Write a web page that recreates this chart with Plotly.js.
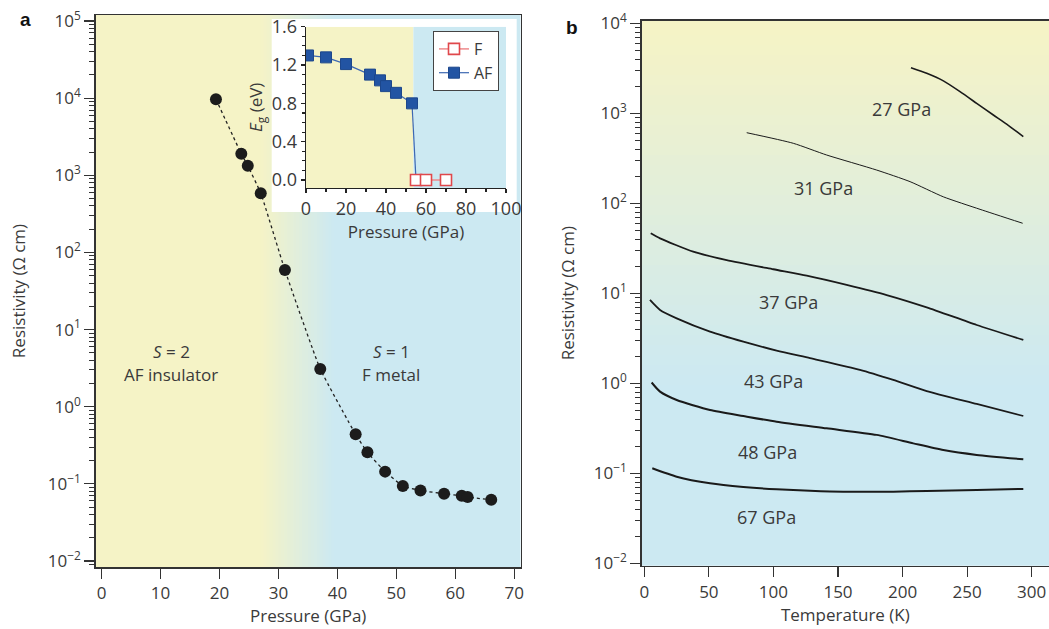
<!DOCTYPE html>
<html><head><meta charset="utf-8">
<script src="https://cdn.plot.ly/plotly-3.0.1.min.js"></script>
<style>html,body{margin:0;padding:0;background:#fff}#chart{width:1049px;height:629px}</style>
</head><body><div id="chart"></div>
<script>
// ---------- Panel a: resistivity vs pressure ----------
const pressureA = [19.4, 23.7, 24.8, 27.0, 31.1, 37.1, 43.1, 45.1, 48.1, 51.1, 54.1, 58.1, 61.1, 62.1, 66.1];
const resistivityA = [9700, 1900, 1330, 585, 59, 3.08, 0.438, 0.256, 0.144, 0.094, 0.082, 0.0745, 0.070, 0.0675, 0.062];

// ---------- Inset: band gap vs pressure ----------
const afPressure = [1, 10, 20, 32, 37, 40, 45, 53];
const afGap = [1.30, 1.28, 1.21, 1.10, 1.04, 0.98, 0.91, 0.80];
const fPressure = [55, 60, 70];
const fGap = [0, 0, 0];

// ---------- Panel b: resistivity vs temperature ----------
const t27 = [206.5, 218.7, 231.6, 244.5, 257.4, 270.3, 280.6, 293.5];
const r27 = [3210, 2780, 2290, 1740, 1290, 957, 760, 550];
const t31 = [79.3, 115.4, 141.2, 180, 205.8, 231.6, 260, 293];
const r31 = [609, 464, 344, 234, 174, 118, 85.7, 60];
const t37 = [5, 12.2, 37.9, 63.8, 99.9, 125.8, 156.7, 187.7, 218.7, 257.4, 293.5];
const r37 = [46.4, 40.8, 29, 23.4, 18.5, 15.7, 12.4, 9.57, 6.98, 4.44, 3.03];
const t43 = [4.4, 12.2, 25.1, 50.9, 76.7, 102.5, 128.3, 167, 192.8, 218.7, 257.4, 293.5];
const r43 = [8.43, 6.53, 5.27, 3.75, 2.9, 2.31, 1.9, 1.41, 1.09, 0.82, 0.589, 0.433];
const t48 = [5.7, 12.2, 25.1, 50.9, 76.7, 102.5, 141.2, 180, 208.3, 231.6, 257.4, 293.5];
const r48 = [1.02, 0.807, 0.652, 0.505, 0.433, 0.374, 0.316, 0.267, 0.215, 0.181, 0.16, 0.143];
const t67 = [6.2, 25.1, 50.9, 76.7, 102.5, 128.3, 154.1, 192.8, 218.7, 257.4, 293.5];
const r67 = [0.1137, 0.0917, 0.0774, 0.0705, 0.0664, 0.0641, 0.0625, 0.0625, 0.0635, 0.0652, 0.067];
const curveLabels = ['27 GPa', '31 GPa', '37 GPa', '43 GPa', '48 GPa', '67 GPa'];

const logTickVals = [1e-2, 1e-1, 1e0, 1e1, 1e2, 1e3, 1e4, 1e5];
const logTickText = ['10<sup>−2</sup>', '10<sup>−1</sup>', '10<sup>0</sup>', '10<sup>1</sup>', '10<sup>2</sup>', '10<sup>3</sup>', '10<sup>4</sup>', '10<sup>5</sup>'];

// ---------- layout helpers ----------
const W = 1049, H = 629;
const px = v => v / W, py = v => 1 - v / H;
const FONT = 'Open Sans, Noto Sans, sans-serif';
const TXT = '#3a3a3a';
const YEL = [245, 243, 198], BLU = [204, 233, 242];
const mix = (f) => {
  const c = YEL.map((a, i) => Math.round(a + (BLU[i] - a) * f));
  return `rgb(${c[0]},${c[1]},${c[2]})`;
};

const shapes = [];
// panel a background: horizontal gradient yellow -> blue
const aY0 = py(567), aY1 = py(15);
shapes.push({type: 'rect', layer: 'below', xref: 'x', yref: 'paper', x0: -1, x1: 27.2, y0: aY0, y1: aY1, fillcolor: mix(0), line: {width: 0}});
const gA0 = 27, gA1 = 39.5, nA = 25;
for (let i = 0; i < nA; i++) {
  const x0 = gA0 + (gA1 - gA0) * i / nA, x1 = gA0 + (gA1 - gA0) * (i + 1) / nA;
  shapes.push({type: 'rect', layer: 'below', xref: 'x', yref: 'paper', x0: x0, x1: x1 + 0.15, y0: aY0, y1: aY1, fillcolor: mix((i + 0.5) / nA), line: {width: 0}});
}
shapes.push({type: 'rect', layer: 'below', xref: 'x', yref: 'paper', x0: gA1, x1: 71.1, y0: aY0, y1: aY1, fillcolor: mix(1), line: {width: 0}});

// panel b background: vertical gradient
const bX0 = px(641.7), bX1 = 1.0;
const bTop = 20.7, bBot = 565.7, gB0 = 35, gB1 = 385, nB = 35;
shapes.push({type: 'rect', layer: 'below', xref: 'paper', yref: 'paper', x0: bX0, x1: bX1, y0: py(gB0 + 0.5), y1: py(bTop), fillcolor: mix(0), line: {width: 0}});
for (let i = 0; i < nB; i++) {
  const y0 = gB0 + (gB1 - gB0) * i / nB, y1 = gB0 + (gB1 - gB0) * (i + 1) / nB;
  shapes.push({type: 'rect', layer: 'below', xref: 'paper', yref: 'paper', x0: bX0, x1: bX1, y0: py(y1 + 0.8), y1: py(y0), fillcolor: mix((i + 0.5) / nB), line: {width: 0}});
}
shapes.push({type: 'rect', layer: 'below', xref: 'paper', yref: 'paper', x0: bX0, x1: bX1, y0: py(bBot), y1: py(gB1), fillcolor: mix(1), line: {width: 0}});

// inset white box
shapes.push({type: 'rect', layer: 'below', xref: 'paper', yref: 'paper', x0: px(271.7), x1: px(516.7), y0: py(212), y1: py(19), fillcolor: '#ffffff', line: {width: 0}});
// inset phase regions
shapes.push({type: 'rect', layer: 'below', xref: 'x3', yref: 'y3', x0: 0, x1: 53.7, y0: -0.083, y1: 1.6, fillcolor: mix(0), line: {width: 0}});
shapes.push({type: 'rect', layer: 'below', xref: 'x3', yref: 'y3', x0: 53.7, x1: 100, y0: -0.083, y1: 1.6, fillcolor: mix(1), line: {width: 0}});

// ---------- traces ----------
const traces = [];
traces.push({x: pressureA, y: resistivityA, xaxis: 'x', yaxis: 'y', mode: 'lines+markers', showlegend: false,
  line: {color: '#222', width: 1.3, dash: 'dot', shape: 'spline', smoothing: 0.4},
  marker: {color: '#1c1c1c', size: 12, symbol: 'circle'}});

const bSeries = [[t27, r27, 1.6], [t31, r31, 1.0], [t37, r37, 1.8], [t43, r43, 1.8], [t48, r48, 2.0], [t67, r67, 2.0]];
bSeries.forEach((s, i) => {
  traces.push({x: s[0], y: s[1], xaxis: 'x2', yaxis: 'y2', mode: 'lines', showlegend: false, name: curveLabels[i],
    line: {color: '#1a1a1a', width: s[2], shape: 'spline', smoothing: 0.6}});
});

// inset: connector from last AF point to first F point
traces.push({x: [afPressure[afPressure.length - 1], fPressure[0]], y: [afGap[afGap.length - 1], fGap[0]],
  xaxis: 'x3', yaxis: 'y3', mode: 'lines', showlegend: false, line: {color: '#3d68b2', width: 1.2}});
traces.push({x: afPressure, y: afGap, xaxis: 'x3', yaxis: 'y3', mode: 'lines+markers', name: 'AF', legendrank: 2,
  line: {color: '#3d68b2', width: 1.2},
  marker: {symbol: 'square', size: 11, color: '#2254a3', line: {color: '#1d478c', width: 1}}});
traces.push({x: fPressure, y: fGap, xaxis: 'x3', yaxis: 'y3', mode: 'lines+markers', name: 'F', legendrank: 1,
  line: {color: '#ee8a8c', width: 1.5},
  marker: {symbol: 'square', size: 11, color: '#ffffff', line: {color: '#e0484c', width: 1.6}}});

// ---------- axes ----------
const TICK = {family: FONT, size: 17, color: TXT};
const TITLE = {family: FONT, size: 17, color: TXT};
const axBase = {showgrid: false, zeroline: false, showline: true, linecolor: '#333', linewidth: 1.5,
  ticks: 'outside', tickcolor: '#333', tickwidth: 1.2, tickfont: TICK};

const layout = {
  width: W, height: H, margin: {l: 0, r: 0, t: 0, b: 0},
  paper_bgcolor: '#ffffff', plot_bgcolor: 'rgba(0,0,0,0)',
  font: {family: FONT, color: TXT},
  showlegend: true,
  legend: {x: px(433), y: py(31), xanchor: 'left', yanchor: 'top', bgcolor: '#ffffff', bordercolor: '#444', borderwidth: 1,
    font: {family: FONT, size: 16, color: TXT}, tracegroupgap: 0, itemwidth: 30},
  xaxis: Object.assign({}, axBase, {domain: [px(95.7), px(520.7)], anchor: 'y', range: [-1, 71.1], tick0: 0, dtick: 10,
    ticklen: 10, mirror: true, title: {text: 'Pressure (GPa)', font: TITLE, standoff: 6}}),
  yaxis: Object.assign({}, axBase, {domain: [py(567), py(15)], anchor: 'x', type: 'log', range: [-2.078, 5.078],
    tickmode: 'array', tickvals: logTickVals, ticktext: logTickText, ticklen: 10, mirror: true,
    minor: {dtick: 'D1', ticks: 'outside', ticklen: 5, tickcolor: '#333', tickwidth: 1},
    title: {text: 'Resistivity (Ω cm)', font: TITLE, standoff: 18}}),
  xaxis2: Object.assign({}, axBase, {domain: [px(641.7), 1.0], anchor: 'y2', range: [-2, 313.4], tick0: 0, dtick: 50,
    ticklen: 10, mirror: true, title: {text: 'Temperature (K)', font: TITLE, standoff: 6}}),
  yaxis2: Object.assign({}, axBase, {domain: [py(565.7), py(20.7)], anchor: 'x2', type: 'log', range: [-2.027, 4.029],
    tickmode: 'array', tickvals: logTickVals.slice(0, 7), ticktext: logTickText.slice(0, 7), ticklen: 10,
    minor: {dtick: 'D1', ticks: 'outside', ticklen: 5, tickcolor: '#333', tickwidth: 1},
    title: {text: 'Resistivity (Ω cm)', font: TITLE, standoff: 15}}),
  xaxis3: Object.assign({}, axBase, {domain: [px(306), px(506)], anchor: 'y3', range: [0, 100], tick0: 0, dtick: 20,
    ticklen: 4, linewidth: 1.3, linecolor: '#222', tickcolor: '#222',
    tickfont: {family: FONT, size: 18, color: TXT},
    minor: {dtick: 10, ticks: 'outside', ticklen: 3, tickcolor: '#222'},
    title: {text: 'Pressure (GPa)', font: TITLE, standoff: 2}}),
  yaxis3: Object.assign({}, axBase, {domain: [py(188), py(26.7)], anchor: 'x3', range: [-0.083, 1.6], tick0: 0, dtick: 0.4,
    tickformat: '.1f', ticklen: 4, linewidth: 1.3, linecolor: '#222', tickcolor: '#222',
    tickfont: {family: FONT, size: 18, color: TXT},
    minor: {dtick: 0.1, ticks: 'outside', ticklen: 3, tickcolor: '#222'},
    title: {text: '<i>E</i><sub>g</sub> (eV)', font: TITLE, standoff: 4}}),
  shapes: shapes,
  annotations: []
};

const ann = layout.annotations;
const addText = (text, x, y, size, extra) => ann.push(Object.assign({text: text, xref: 'paper', yref: 'paper', x: px(x), y: py(y),
  xanchor: 'center', yanchor: 'middle', showarrow: false, font: {family: FONT, size: size, color: TXT}}, extra || {}));
addText('<b>a</b>', 25, 20, 18, {font: {family: 'Liberation Sans, Arial, sans-serif', size: 19, color: '#111'}});
addText('<b>b</b>', 572, 28, 18, {font: {family: 'Liberation Sans, Arial, sans-serif', size: 19, color: '#111'}});
addText('<i>S</i> = 2', 171, 351, 17);
addText('AF insulator', 171, 374, 17);
addText('<i>S</i> = 1', 391, 351, 17);
addText('F metal', 391, 374, 17);
const labelPos = [[901, 109], [823, 188], [788, 302], [773, 381], [767, 452], [766, 517]];
curveLabels.forEach((t, i) => addText(t, labelPos[i][0], labelPos[i][1], 18));

Plotly.newPlot('chart', traces, layout, {staticPlot: true, displayModeBar: false});
</script>
</body></html>
